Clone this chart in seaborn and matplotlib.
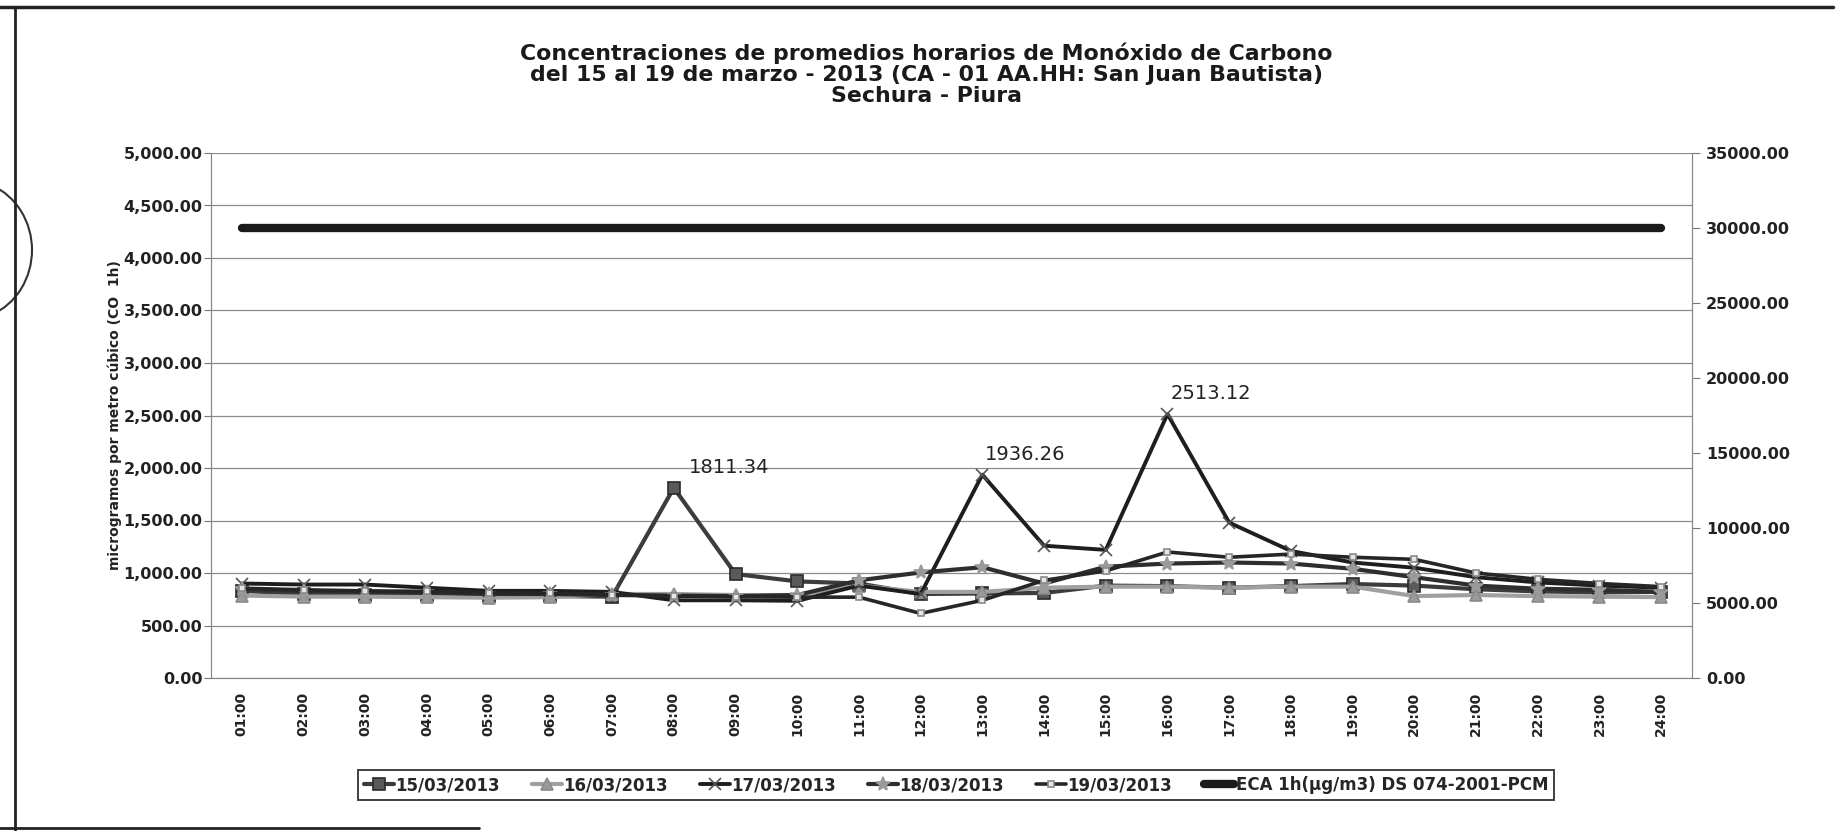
import matplotlib
matplotlib.use("Agg")
import matplotlib.pyplot as plt
from matplotlib.lines import Line2D
from matplotlib.patches import Arc
from matplotlib.ticker import FuncFormatter, MultipleLocator
import seaborn as sns
import numpy as np
import pandas as pd

hours = ["01:00", "02:00", "03:00", "04:00", "05:00", "06:00", "07:00", "08:00",
         "09:00", "10:00", "11:00", "12:00", "13:00", "14:00", "15:00", "16:00",
         "17:00", "18:00", "19:00", "20:00", "21:00", "22:00", "23:00", "24:00"]

d15 = [830, 800, 790, 790, 780, 780, 775, 1811.34, 990, 920, 900, 800,
       805, 810, 880, 875, 860, 875, 895, 880, 845, 825, 815, 820]
d16 = [785, 775, 775, 770, 765, 770, 800, 800, 790, 790, 880, 820,
       820, 860, 870, 870, 860, 870, 870, 780, 790, 780, 775, 770]
d17 = [900, 890, 890, 860, 830, 830, 820, 740, 740, 735, 880, 800,
       1936.26, 1260, 1220, 2513.12, 1480, 1210, 1100, 1050, 960, 910, 880, 860]
d18 = [850, 830, 820, 815, 800, 800, 790, 785, 780, 790, 930, 1005,
       1055, 900, 1060, 1090, 1100, 1090, 1040, 960, 880, 850, 840, 820]
d19 = [855, 840, 830, 825, 810, 805, 795, 780, 775, 770, 770, 615,
       740, 930, 1020, 1200, 1150, 1180, 1150, 1130, 1000, 940, 900, 870]
eca = [30000] * 24

series_names = ["15/03/2013", "16/03/2013", "17/03/2013", "18/03/2013", "19/03/2013"]
series_vals = [d15, d16, d17, d18, d19]
eca_name = "ECA 1h(µg/m3) DS 074-2001-PCM"
peak_labels = {"15/03/2013": [7], "17/03/2013": [12, 15]}

styles = {
    "15/03/2013": dict(color="#3c3c3c", marker="s", ms=8, mfc="#5a5a5a", mec="#2a2a2a", lw=3),
    "16/03/2013": dict(color="#a0a0a0", marker="^", ms=8, mfc="#9a9a9a", mec="#8a8a8a", lw=3),
    "17/03/2013": dict(color="#1e1e1e", marker="x", ms=8, mfc="#1e1e1e", mec="#555555", lw=2.8),
    "18/03/2013": dict(color="#2e2e2e", marker="*", ms=10, mfc="#9a9a9a", mec="#9a9a9a", lw=3),
    "19/03/2013": dict(color="#262626", marker="s", ms=5, mfc="#e6e6e6", mec="#8a8a8a", lw=2.6),
}

sns.set_style("white")
plt.rcParams["font.family"] = ["DejaVu Sans"]

fig = plt.figure(figsize=(18.42, 8.31), dpi=100)
ax = fig.add_axes([211 / 1842, 1 - 678 / 831, 1481 / 1842, 525 / 831])
ax2 = ax.twinx()

pos = np.arange(len(hours))
for name, vals in zip(series_names, series_vals):
    st = styles[name]
    df = pd.DataFrame({"x": pos, "y": vals})
    sns.lineplot(data=df, x="x", y="y", ax=ax, color=st["color"], lw=st["lw"],
                 marker=st["marker"], markersize=st["ms"], markerfacecolor=st["mfc"],
                 markeredgecolor=st["mec"], markeredgewidth=1.2, label=name, zorder=3)

sns.lineplot(x=pos, y=eca, ax=ax2, color="#1a1a1a", lw=6, label=eca_name)

# data labels on the peaks
for name, vals in zip(series_names, series_vals):
    for i in peak_labels.get(name, []):
        dx = 11 if name == "15/03/2013" else 2
        ax.annotate(f"{vals[i]:.2f}", (pos[i], vals[i]), xytext=(dx, 8),
                    textcoords="offset points", ha="left", va="bottom",
                    fontsize=14, color="#222222")

ax.set_xlim(-0.5, len(hours) - 0.5)
ax.set_ylim(0, 5000)
ax2.set_ylim(0, 35000)
ax.yaxis.set_major_locator(MultipleLocator(500))
ax2.yaxis.set_major_locator(MultipleLocator(5000))
ax.yaxis.set_major_formatter(FuncFormatter(lambda v, p: f"{v:,.2f}"))
ax2.yaxis.set_major_formatter(FuncFormatter(lambda v, p: f"{v:.2f}"))

ax.set_xticks(pos)
ax.set_xticklabels(hours, rotation=90, fontsize=10, fontweight="bold", color="#222222")
ax.set_xticks(np.arange(-0.5, len(hours)), minor=True)
ax.tick_params(axis="x", which="major", length=0, pad=10)
ax.tick_params(axis="x", which="minor", length=6, color="#777777", width=1)
ax.tick_params(axis="y", length=5, color="#777777", labelsize=11.5, pad=1, left=True)
ax2.tick_params(axis="y", length=6, color="#777777", labelsize=11.5, pad=4, right=True)
for lab in ax.get_yticklabels() + ax2.get_yticklabels():
    lab.set_fontweight("bold")
    lab.set_color("#222222")

ax.grid(axis="y", color="#8c8c8c", lw=0.9)
ax.set_axisbelow(True)
for a in (ax, ax2):
    a.spines["top"].set_visible(False)
    a.spines["left"].set_color("#888888")
    a.spines["right"].set_color("#888888")
    a.spines["bottom"].set_color("#888888")
    a.set_xlabel("")
ax.set_ylabel("microgramos por metro cúbico (CO  1h)", fontsize=10, fontweight="bold",
              color="#222222", labelpad=1)
ax2.set_ylabel("")

# legend below
h1, l1 = ax.get_legend_handles_labels()
h2, l2 = ax2.get_legend_handles_labels()
ax.get_legend().remove()
ax2.get_legend().remove()
leg = fig.legend(h1 + h2, l1 + l2, loc="center", bbox_to_anchor=(0.519, 0.055), ncol=6,
                 frameon=True, fancybox=False, edgecolor="#111111", handlelength=1.8,
                 handletextpad=0.1, columnspacing=1.9, borderpad=0.35,
                 prop={"weight": "bold", "size": 12})
leg.get_frame().set_linewidth(1.4)

fig.text(0.503, 0.911, "Concentraciones de promedios horarios de Monóxido de Carbono\n"
         "del 15 al 19 de marzo - 2013 (CA - 01 AA.HH: San Juan Bautista)\nSechura - Piura",
         ha="center", va="center", fontsize=15.8, fontweight="bold", linespacing=1.05,
         color="#1a1a1a")

# scanned page frame and stamp edge
fig.add_artist(Line2D([0.0, 0.995], [0.991, 0.991], color="#222222", lw=2.5))
fig.add_artist(Line2D([0.008, 0.008], [0.991, 0.0], color="#222222", lw=2))
fig.add_artist(Line2D([0.0, 0.26], [0.004, 0.004], color="#222222", lw=2))
fig.add_artist(Arc((-33 / 1842, 1 - 250 / 831), 130 / 1842, 140 / 831,
                   theta1=-80, theta2=80, transform=fig.transFigure, color="#333333", lw=1.5))

fig.savefig("out.png", dpi=100)
